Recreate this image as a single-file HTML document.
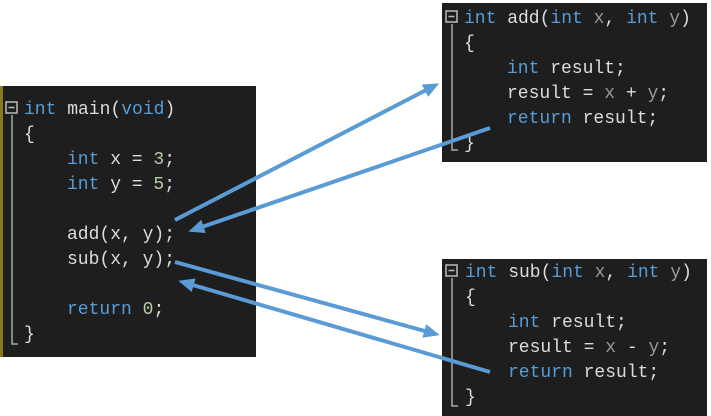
<!DOCTYPE html>
<html><head><meta charset="utf-8"><style>
html,body{margin:0;padding:0;background:#fff;width:711px;height:416px;overflow:hidden}
svg text{font-family:"Liberation Mono",monospace;font-size:18px;fill:#dcdcdc;white-space:pre}
.k{fill:#569cd6}.n{fill:#b5cea8}.p{fill:#9a9a9a}
</style></head><body>
<svg width="711" height="416" xmlns="http://www.w3.org/2000/svg">
<defs><marker id="a" markerWidth="16" markerHeight="14" refX="8" refY="7" orient="auto" markerUnits="userSpaceOnUse" viewBox="0 0 16 14"><path d="M0,0 L16,7 L0,14 z" fill="#5b9bd5"/></marker></defs>
<rect x="0" y="86" width="256" height="271" fill="#1e1e1e"/>
<rect x="0" y="86" width="3" height="271" fill="#8a7a1a"/>
<rect x="6" y="102" width="11" height="11" fill="none" stroke="#bbb" stroke-width="1.5"/>
<line x1="8.5" y1="107.5" x2="14.5" y2="107.5" stroke="#bbb" stroke-width="1.5"/>
<polyline points="12,115 12,344 18,344" fill="none" stroke="#aaa" stroke-width="1.5"/>
<text x="24" y="114"><tspan class="k">int</tspan> main(<tspan class="k">void</tspan>)</text>
<text x="24" y="139">{</text>
<text x="67" y="164"><tspan class="k">int</tspan> x = <tspan class="n">3</tspan>;</text>
<text x="67" y="189"><tspan class="k">int</tspan> y = <tspan class="n">5</tspan>;</text>
<text x="67" y="239">add(x, y);</text>
<text x="67" y="264">sub(x, y);</text>
<text x="67" y="314"><tspan class="k">return</tspan> <tspan class="n">0</tspan>;</text>
<text x="24" y="339">}</text>
<rect x="442" y="3" width="265" height="159" fill="#1e1e1e"/>
<rect x="446" y="11" width="11" height="11" fill="none" stroke="#bbb" stroke-width="1.5"/>
<line x1="448.5" y1="16.5" x2="454.5" y2="16.5" stroke="#bbb" stroke-width="1.5"/>
<polyline points="452,24 452,150 458,150" fill="none" stroke="#aaa" stroke-width="1.5"/>
<text x="464" y="23"><tspan class="k">int</tspan> add(<tspan class="k">int</tspan> <tspan class="p">x</tspan>, <tspan class="k">int</tspan> <tspan class="p">y</tspan>)</text>
<text x="464" y="48">{</text>
<text x="507" y="73"><tspan class="k">int</tspan> result;</text>
<text x="507" y="98">result = <tspan class="p">x</tspan> + <tspan class="p">y</tspan>;</text>
<text x="507" y="123"><tspan class="k">return</tspan> result;</text>
<text x="464" y="148">}</text>
<rect x="442" y="259" width="265" height="157" fill="#1e1e1e"/>
<rect x="446" y="265" width="11" height="11" fill="none" stroke="#bbb" stroke-width="1.5"/>
<line x1="448.5" y1="270.5" x2="454.5" y2="270.5" stroke="#bbb" stroke-width="1.5"/>
<polyline points="452,278 452,406 458,406" fill="none" stroke="#aaa" stroke-width="1.5"/>
<text x="465" y="277"><tspan class="k">int</tspan> sub(<tspan class="k">int</tspan> <tspan class="p">x</tspan>, <tspan class="k">int</tspan> <tspan class="p">y</tspan>)</text>
<text x="465" y="302">{</text>
<text x="508" y="327"><tspan class="k">int</tspan> result;</text>
<text x="508" y="352">result = <tspan class="p">x</tspan> - <tspan class="p">y</tspan>;</text>
<text x="508" y="377"><tspan class="k">return</tspan> result;</text>
<text x="465" y="402">}</text>
<g stroke="#5b9bd5" stroke-width="4" fill="none">
<line x1="175" y1="220" x2="432" y2="87" marker-end="url(#a)"/>
<line x1="490" y1="128" x2="196" y2="229" marker-end="url(#a)"/>
<line x1="175" y1="262" x2="432" y2="333" marker-end="url(#a)"/>
<line x1="490" y1="372" x2="186" y2="283" marker-end="url(#a)"/>
</g>
</svg>
</body></html>
